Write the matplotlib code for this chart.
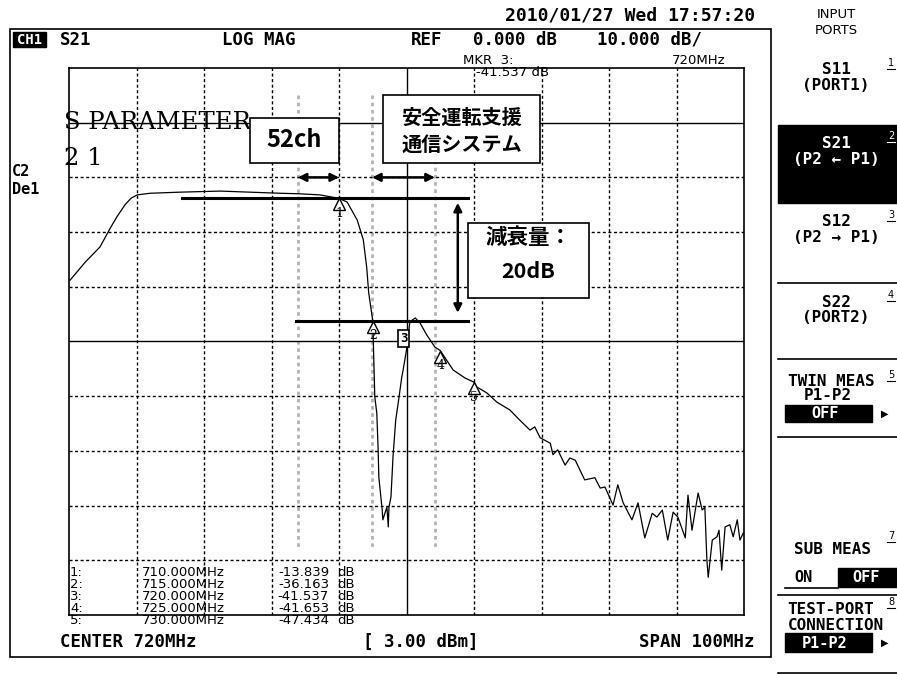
import matplotlib
matplotlib.use("Agg")
import matplotlib.pyplot as plt
from matplotlib.patches import Rectangle
from matplotlib.lines import Line2D
from matplotlib.transforms import offset_copy

# S21 trace (MHz, dB)
freq_mhz = [670.15, 672.4, 674.6, 676.1, 677.1, 678.3, 679.2, 680.1, 682.0, 686.4,
            692.4, 696.8, 701.3, 704.2, 707.2, 710.0, 711.2, 712.7, 713.6, 714.1,
            714.4, 715.0, 715.3, 715.6, 715.8, 715.9, 716.2, 716.4, 716.5, 716.8,
            717.1, 717.3, 717.4, 717.7, 718.0, 718.4, 718.9, 719.3, 719.5, 720.0,
            720.5, 721.3, 722.0, 723.0, 724.2, 725.0, 726.9, 728.7, 730.0,
            730.4, 731.9, 733.4, 735.3, 736.8, 738.3, 739.0, 739.8, 741.3, 741.7,
            742.4, 743.5, 744.2, 745.0, 746.4, 747.9, 748.7, 749.4, 750.6, 751.3,
            752.1, 753.4, 754.3, 755.3, 756.4, 757.1, 757.9, 758.7, 759.5, 760.2,
            761.3, 761.7, 762.3, 763.2, 763.8, 764.2, 764.5, 764.7, 765.3, 766.0,
            766.3, 766.7, 767.2, 767.9, 768.4, 769.0, 769.4, 769.9]
s21_db = [-28.8, -25.5, -22.7, -19.3, -17.2, -15.0, -13.8, -13.2, -12.9, -12.7,
          -12.5, -12.7, -12.9, -13.0, -13.2, -13.84, -14.5, -17.8, -21.4, -26.4,
          -31.1, -36.16, -50.1, -53.1, -59.8, -64.8, -68.4, -70.8, -72.6, -71.4,
          -70.3, -73.9, -70.3, -68.4, -61.1, -54.4, -50.1, -46.5, -45.2, -41.54,
          -36.4, -35.7, -36.6, -38.8, -41.0, -41.65, -45.2, -46.7, -47.43,
          -48.3, -49.4, -51.1, -52.5, -54.4, -56.2, -55.6, -57.6, -58.6, -60.7,
          -59.8, -62.6, -61.3, -61.7, -65.3, -64.9, -66.8, -66.6, -69.9, -66.2,
          -69.5, -72.6, -69.5, -75.9, -71.4, -72.1, -70.8, -76.3, -71.2, -72.1,
          -75.9, -68.1, -74.5, -67.7, -70.8, -70.3, -79.9, -83.1, -76.3, -75.7,
          -74.5, -81.8, -73.9, -73.5, -75.7, -72.6, -76.3, -75.0]

marker_freq = [710, 715, 720, 725, 730]
marker_db = [-13.839, -36.163, -41.537, -41.653, -47.434]
active_marker = 3

# annotations drawn on the screenshot
guide_freq = [703.9, 714.9, 724.2]
band_52ch = (703.9, 710.0)
band_its = (714.9, 724.2)
band_arrow_db = -10.0
level_db = [-13.839, -36.163]
level_start = [686.7, 703.6]
level_end = 729.1
atten_freq = 727.6

W, H = 897, 675
fig = plt.figure(figsize=(W / 100, H / 100), dpi=100)
fig.patch.set_facecolor("white")

MONO = "DejaVu Sans Mono"
THIN = "DejaVu Sans"
JP = ["Noto Sans CJK JP", "DejaVu Sans"]


def fx(x):
    return x / W


def fy(y):
    return 1 - y / H


def ftext(x, y, s, **kw):
    kw.setdefault("va", "center")
    fig.text(fx(x), fy(y), s, **kw)


def frect(x0, y0, x1, y1, **kw):
    fig.add_artist(Rectangle((fx(x0), fy(y1)), (x1 - x0) / W, (y1 - y0) / H,
                             transform=fig.transFigure, **kw))


def fline(x0, y0, x1, y1, **kw):
    fig.add_artist(Line2D([fx(x0), fx(x1)], [fy(y0), fy(y1)],
                          transform=fig.transFigure, **kw))


# outer screen frame
frect(10, 29, 771, 657, fill=False, ec="black", lw=1.2)

# plot area
ax = fig.add_axes([fx(69), fy(615), 675 / W, 547 / H])
ax.set_xlim(670, 770)
ax.set_ylim(-90, 10)
ax.set_xticks([])
ax.set_yticks([])
for sp in ax.spines.values():
    sp.set_linewidth(1.2)

for f in range(680, 770, 10):
    if f == 720:
        ax.axvline(f, color="black", lw=1.0)
    else:
        ax.axvline(f, color="black", lw=1.0, dashes=(2.2, 1.8))
for d in range(-80, 10, 10):
    if d in (0, -40):
        ax.axhline(d, color="black", lw=1.0)
    else:
        ax.axhline(d, color="black", lw=1.0, dashes=(2.2, 1.8))

# gray dotted band edges
for f in guide_freq:
    ax.plot([f, f], [5, -78], color="#b4b4b4", lw=2.0, dashes=(1.3, 1.3), zorder=1)

# title text inside screen
ax.text(669.2, 0, "S PARAMETER", fontsize=17.5, family="DejaVu Serif",
        va="center", ha="left", zorder=1, clip_on=False)
ax.text(669.2, -6.6, "2 1", fontsize=17.5, family="DejaVu Serif",
        va="center", ha="left", zorder=1, clip_on=False)

# trace
ax.plot(freq_mhz, s21_db, color="black", lw=0.9, zorder=4)

# markers
tri_tf = offset_copy(ax.transData, fig=fig, x=0, y=-6, units="dots")
for i, (f, v) in enumerate(zip(marker_freq, marker_db), start=1):
    if i == active_marker:
        ax.annotate(str(i), (f, v), xytext=(-2, 8), textcoords="offset points",
                    ha="center", va="center", fontsize=9, family=MONO, weight="bold",
                    bbox=dict(boxstyle="square,pad=0.15", fc="white", ec="black", lw=1.2),
                    zorder=6)
    else:
        ax.plot([f], [v], marker="^", ms=9, mfc="white", mec="black", mew=1.0,
                transform=tri_tf, zorder=5)
        ax.annotate(str(i), (f, v), xytext=(0, -11), textcoords="offset points",
                    ha="center", va="center", fontsize=9, family="DejaVu Serif", zorder=6)

# level lines and arrows
for d, x0 in zip(level_db, level_start):
    ax.plot([x0, level_end], [d, d], color="black", lw=2.2, zorder=5)
arr = dict(arrowstyle="<|-|>", color="black", lw=1.8, mutation_scale=12, shrinkA=0, shrinkB=0)
ax.annotate("", xy=(atten_freq, level_db[0] - 0.8), xytext=(atten_freq, level_db[1] + 1.4),
            arrowprops=arr, zorder=5)
ax.annotate("", xy=(band_52ch[0], band_arrow_db), xytext=(band_52ch[1], band_arrow_db),
            arrowprops=arr, zorder=5)
ax.annotate("", xy=(band_its[0], band_arrow_db), xytext=(band_its[1], band_arrow_db),
            arrowprops=arr, zorder=5)

# call-out boxes
ax.add_patch(Rectangle((696.8, -7.4), 13.2, 8.3, fc="white", ec="black", lw=1.2, zorder=7))
ax.text(703.4, -3.2, "52ch", fontsize=17, family=JP, weight="bold",
        ha="center", va="center", zorder=8)
ax.add_patch(Rectangle((716.5, -7.4), 23.3, 12.5, fc="white", ec="black", lw=1.2, zorder=7))
ax.text(728.2, 1.0, "安全運転支援", fontsize=14.5, family=JP, weight="bold",
        ha="center", va="center", zorder=8)
ax.text(728.2, -3.9, "通信システム", fontsize=14.5, family=JP, weight="bold",
        ha="center", va="center", zorder=8)
ax.add_patch(Rectangle((729.1, -32.0), 17.9, 13.7, fc="white", ec="black", lw=1.2, zorder=7))
ax.text(738.0, -20.9, "減衰量：", fontsize=15.5, family=JP, weight="bold",
        ha="center", va="center", zorder=8)
ax.text(738.0, -27.2, "20dB", fontsize=15.5, family=JP, weight="bold",
        ha="center", va="center", zorder=8)

# header
ftext(630, 15, "2010/01/27 Wed 17:57:20", fontsize=13, family=MONO, weight="bold", ha="center")
frect(13, 32, 46, 47, fc="black", ec="black")
ftext(29.5, 40, "CH1", fontsize=10, family=MONO, weight="bold", color="white", ha="center")
ftext(60, 40, "S21", fontsize=12.5, family=MONO, weight="bold")
ftext(222, 40, "LOG MAG", fontsize=12.5, family=MONO, weight="bold")
ftext(411, 40, "REF", fontsize=12.5, family=MONO, weight="bold")
ftext(473, 40, "0.000 dB", fontsize=12.5, family=MONO, weight="bold")
ftext(597, 40, "10.000 dB/", fontsize=12.5, family=MONO, weight="bold")
ftext(463, 61, "MKR  3:", fontsize=9.5, family=THIN)
ftext(725, 61, "720MHz", fontsize=9.5, family=THIN, ha="right")
ftext(476, 73, "-41.537 dB", fontsize=9.5, family=THIN)
ftext(12, 172, "C2", fontsize=11, family=MONO, weight="bold")
ftext(12, 189, "De1", fontsize=11, family=MONO, weight="bold")

# marker table
for i, (f, v) in enumerate(zip(marker_freq, marker_db)):
    y = 572 + 12 * i
    ftext(70, y, f"{i + 1}:", fontsize=9.5, family=THIN)
    ftext(225, y, f"{f:.3f}MHz", fontsize=9.5, family=THIN, ha="right")
    ftext(329, y, f"{v:.3f}", fontsize=9.5, family=THIN, ha="right")
    ftext(337, y, "dB", fontsize=9.5, family=THIN)

# footer
ftext(60, 642, "CENTER 720MHz", fontsize=12.5, family=MONO, weight="bold")
ftext(363, 642, "[ 3.00 dBm]", fontsize=12.5, family=MONO, weight="bold")
ftext(754, 642, "SPAN 100MHz", fontsize=12.5, family=MONO, weight="bold", ha="right")

# soft-key panel
PX = 836
ftext(PX, 14, "INPUT", fontsize=9.5, family=THIN, ha="center")
ftext(PX, 31, "PORTS", fontsize=9.5, family=THIN, ha="center")
frect(778, 125, 897, 203, fc="black", ec="black")
keys = [("S11", "(PORT1)", "1", 70, "black"),
        ("S21", "(P2 ← P1)", "2", 143, "white"),
        ("S12", "(P2 → P1)", "3", 222, "black"),
        ("S22", "(PORT2)", "4", 302, "black")]
for top, bottom, num, y, col in keys:
    ftext(PX, y, top, fontsize=11.5, family=MONO, weight="bold", ha="center", color=col)
    ftext(PX, y + 16, bottom, fontsize=11.5, family=MONO, weight="bold", ha="center", color=col)
    ftext(891, y - 7, num, fontsize=7, family=THIN, ha="center", color=col)
    fline(887, y - 1, 895, y - 1, color=col, lw=0.8)
for y in (283, 359, 437, 595, 673):
    fline(778, y, 897, y, color="black", lw=1.2)

ftext(831, 382, "TWIN MEAS", fontsize=11.5, family=MONO, weight="bold", ha="center")
ftext(891, 375, "5", fontsize=7, family=THIN, ha="center")
fline(887, 381, 895, 381, color="black", lw=0.8)
ftext(828, 396, "P1-P2", fontsize=11.5, family=MONO, weight="bold", ha="center")
frect(785, 405, 872, 422, fc="black", ec="black")
ftext(825, 413.5, "OFF", fontsize=11, family=MONO, weight="bold", ha="center", color="white")
ftext(885, 414, "▶", fontsize=7, family=THIN, ha="center")

ftext(832, 549, "SUB MEAS", fontsize=11.5, family=MONO, weight="bold", ha="center")
ftext(891, 536, "7", fontsize=7, family=THIN, ha="center")
fline(887, 542, 895, 542, color="black", lw=0.8)
ftext(803, 578, "ON", fontsize=11, family=MONO, weight="bold", ha="center")
frect(838, 568, 897, 587, fc="black", ec="black")
ftext(866, 578, "OFF", fontsize=11, family=MONO, weight="bold", ha="center", color="white")
fline(785, 588, 838, 588, color="black", lw=1.2)

ftext(831, 609, "TEST-PORT", fontsize=11.5, family=MONO, weight="bold", ha="center")
ftext(891, 602, "8", fontsize=7, family=THIN, ha="center")
fline(887, 608, 895, 608, color="black", lw=0.8)
ftext(836, 626, "CONNECTION", fontsize=11.5, family=MONO, weight="bold", ha="center")
frect(785, 633, 872, 652, fc="black", ec="black")
ftext(825, 643, "P1-P2", fontsize=11, family=MONO, weight="bold", ha="center", color="white")
ftext(885, 643, "▶", fontsize=7, family=THIN, ha="center")

fig.savefig("out.png", dpi=100)
